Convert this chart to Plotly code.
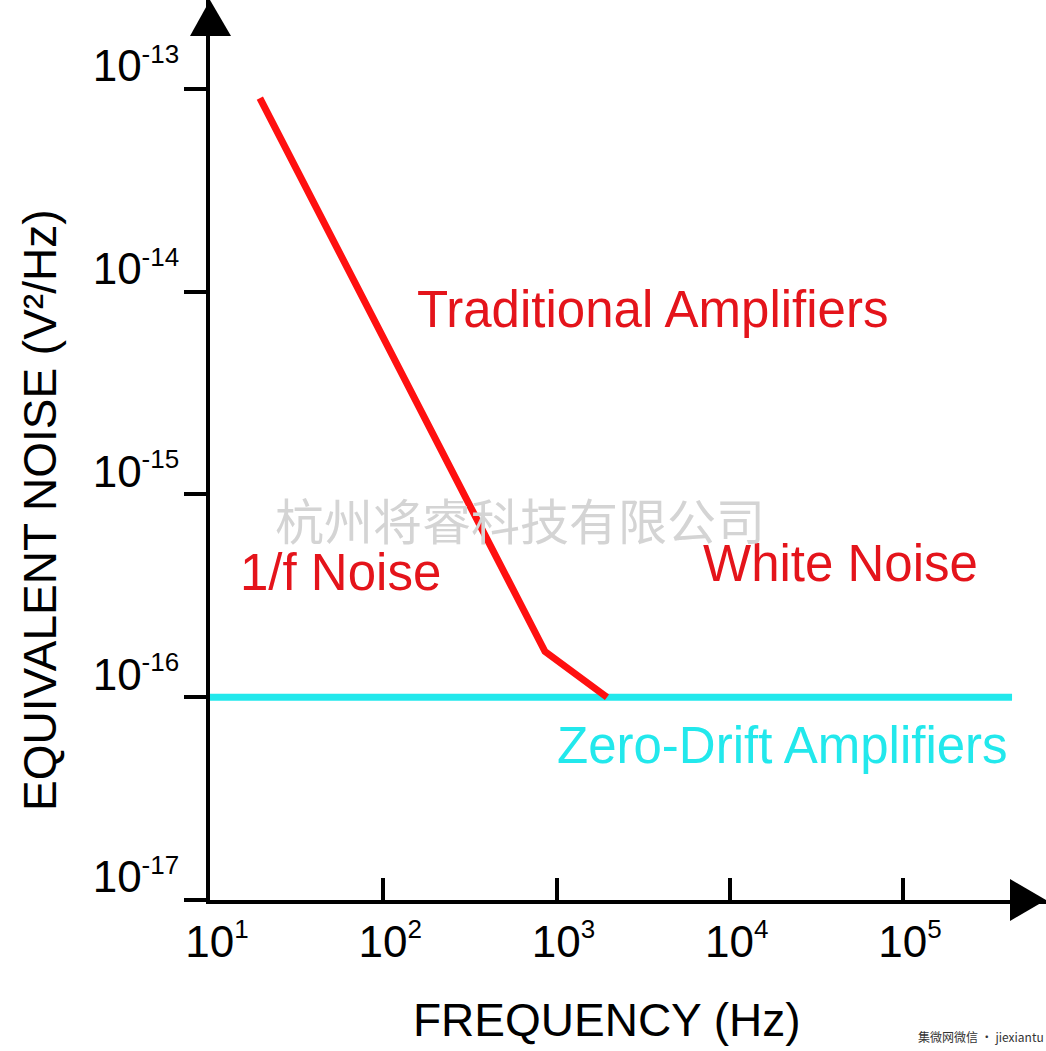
import plotly.graph_objects as go

# ---- data ----
freq_traditional = [19.4, 858, 1956]               # Hz
noise_traditional = [9.0e-14, 1.68e-16, 1.0e-16]   # V^2/Hz

freq_zero_drift = [10, 4.26e5]
noise_zero_drift = [1.0e-16, 1.0e-16]

x_tick_vals = [1e1, 1e2, 1e3, 1e4, 1e5]
x_tick_exp = ["1", "2", "3", "4", "5"]
y_tick_vals = [1e-17, 1e-16, 1e-15, 1e-14, 1e-13]
y_tick_exp = ["-17", "-16", "-15", "-14", "-13"]

FONT = "Liberation Sans, Arial, sans-serif"
RED_LINE = "#ff1010"
RED_TEXT = "#e4141b"
CYAN = "#22e8ec"
SUP = "<sup><span style='font-size:26px'>{}</span></sup>"

x_tick_text = ["10" + SUP.format(e) for e in x_tick_exp]
y_tick_text = ["10" + SUP.format(e) for e in y_tick_exp]

fig = go.Figure()

fig.add_trace(go.Scatter(
    x=freq_zero_drift, y=noise_zero_drift, mode="lines",
    line=dict(color=CYAN, width=7), hoverinfo="skip", showlegend=False,
))
fig.add_trace(go.Scatter(
    x=freq_traditional, y=noise_traditional, mode="lines",
    line=dict(color=RED_LINE, width=7), hoverinfo="skip", showlegend=False,
))

W, H = 1046, 1051
L, R, T, B = 210, 0, 0, 151

fig.update_layout(
    width=W, height=H,
    margin=dict(l=L, r=R, t=T, b=B, pad=0),
    paper_bgcolor="white", plot_bgcolor="white",
    font=dict(family=FONT, color="black"),
    showlegend=False,
    xaxis=dict(
        type="log", range=[1, 5.8254], showgrid=False, zeroline=False,
        showline=True, linecolor="black", linewidth=4,
        ticks="inside", ticklen=22, tickwidth=4, tickcolor="black",
        tickvals=x_tick_vals, ticktext=x_tick_text,
        tickfont=dict(size=44, family=FONT, color="black"),
        ticklabelstandoff=0, ticklabelshift=7, automargin=False,
    ),
    yaxis=dict(
        type="log", range=[-17, -12.562], showgrid=False, zeroline=False,
        showline=True, linecolor="black", linewidth=4,
        ticks="outside", ticklen=22, tickwidth=4, tickcolor="black",
        tickvals=y_tick_vals, ticktext=y_tick_text,
        tickfont=dict(size=44, family=FONT, color="black"),
        ticklabelshift=-23, ticklabelstandoff=-4, automargin=False,
    ),
)

def px_x(px):
    return (px - L) / (W - L - R)

def px_y(py):
    return (H - B - py) / (H - B - T)

annos = [
    dict(text="Traditional Amplifiers", x=px_x(652), y=px_y(309), color=RED_TEXT, size=51),
    dict(text="1/f Noise", x=px_x(340), y=px_y(572), color=RED_TEXT, size=51),
    dict(text="White Noise", x=px_x(840), y=px_y(563), color=RED_TEXT, size=51),
    dict(text="Zero-Drift Amplifiers", x=px_x(782), y=px_y(745), color=CYAN, size=51),
    dict(text="FREQUENCY (Hz)", x=px_x(607), y=px_y(1020), color="black", size=46),
]
for a in annos:
    fig.add_annotation(
        text=a["text"], x=a["x"], y=a["y"], xref="paper", yref="paper",
        xanchor="center", yanchor="middle", showarrow=False,
        font=dict(family=FONT, size=a["size"], color=a["color"]),
    )

fig.add_annotation(
    text="EQUIVALENT NOISE (V²/Hz)", x=px_x(40), y=px_y(510), xref="paper", yref="paper",
    xanchor="center", yanchor="middle", showarrow=False, textangle=-90,
    font=dict(family=FONT, size=46, color="black"),
)

# light company watermark
fig.add_annotation(
    text="杭州将睿科技有限公司", x=px_x(520), y=px_y(518), xref="paper", yref="paper",
    xanchor="center", yanchor="middle", showarrow=False,
    font=dict(family="Noto Sans CJK SC", size=49, color="#d4d4d4"),
)
# small site watermark bottom-right
fig.add_annotation(
    text="集微网微信 · jiexiantu", x=1.0, y=px_y(1036), xref="paper", yref="paper",
    xanchor="right", yanchor="middle", showarrow=False,
    font=dict(family="Noto Sans CJK SC", size=12, color="#333333"),
)

# axis arrow heads
fig.add_shape(type="path", xref="paper", yref="paper", xsizemode="pixel", ysizemode="pixel",
              xanchor=0, yanchor=1, path="M -20,-36 L 21,-36 L 0,0 Z",
              fillcolor="black", line=dict(width=0))
fig.add_shape(type="path", xref="paper", yref="paper", xsizemode="pixel", ysizemode="pixel",
              xanchor=1, yanchor=0, path="M -36,-21 L -36,21 L 0,0 Z",
              fillcolor="black", line=dict(width=0))

fig.write_html("out.html", config={"displayModeBar": False},
               post_script="document.body.style.margin='0px';")
